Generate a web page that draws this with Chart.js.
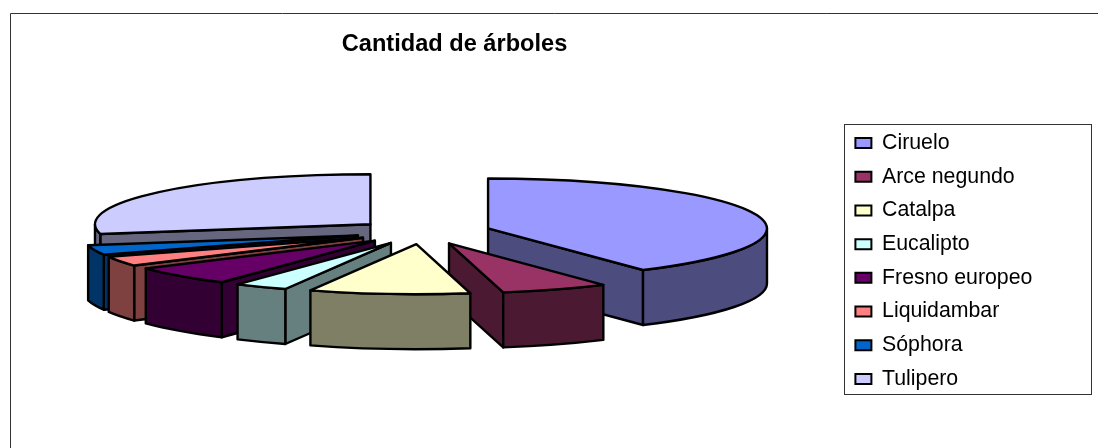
<!DOCTYPE html>
<html>
<head>
<meta charset="utf-8">
<title>Cantidad de árboles</title>
<script src="https://cdn.jsdelivr.net/npm/chart.js@4"></script>
<style>
    html, body { margin: 0; padding: 0; background: #fff; }
    canvas { display: block; }
</style>
</head>
<body>
<canvas id="chart" width="1098" height="448"></canvas>
<script>
const categories = ['Ciruelo', 'Arce negundo', 'Catalpa', 'Eucalipto', 'Fresno europeo', 'Liquidambar', 'Sóphora', 'Tulipero'];
const treeCounts = [13, 2, 3, 1, 2, 1, 1, 9];
const sliceColors = ['#9999FF', '#993366', '#FFFFCC', '#CCFFFF', '#660066', '#FF8080', '#0066CC', '#CCCCFF'];

// ── Helpers ───────────────────────────────────────────────────────────────────

function darken(hex) {
    const num = Number.parseInt(hex.replace('#', ''), 16);
    return `rgb(${(num >> 16) >> 1}, ${((num >> 8) & 0xff) >> 1}, ${(num & 0xff) >> 1})`;
}

// ── 3D exploded pie ───────────────────────────────────────────────────────────

const squash = 50 / 277;   // tilt of the pie plane
const depth = 55;          // height of the extrusion

// tip of an exploded slice, pushed out along its middle angle
function sliceApex(arc) {
    const mid = (arc.startAngle + arc.endAngle) / 2;
    return {
        x: arc.x + Math.cos(mid) * arc.options.offset,
        y: arc.y + Math.sin(mid) * arc.options.offset * squash,
    };
}

function fillPath(ctx, fill, build) {
    ctx.beginPath();
    build();
    ctx.closePath();
    ctx.fillStyle = fill;
    ctx.fill();
    ctx.stroke();
}

function drawSlice(ctx, arc) {
    const { x, y } = sliceApex(arc);
    const { startAngle: s, endAngle: e } = arc;
    // the right side of the pie sits a touch closer to the camera
    const rx = arc.outerRadius + 2 * Math.cos((s + e) / 2);
    const ry = arc.outerRadius * squash;
    const side = darken(arc.options.backgroundColor);

    // radial wall, only when it looks towards the viewer
    const wall = (angle) => fillPath(ctx, side, () => {
        const ox = x + rx * Math.cos(angle);
        const oy = y + ry * Math.sin(angle);
        ctx.moveTo(x, y);
        ctx.lineTo(ox, oy);
        ctx.lineTo(ox, oy + depth);
        ctx.lineTo(x, y + depth);
    });
    if (Math.cos(s) < -1e-6) wall(s);
    if (Math.cos(e) > 1e-6) wall(e);

    // rim, only the part on the near half of the ellipse
    const a0 = Math.max(s, 0);
    const a1 = Math.min(e, Math.PI);
    if (a1 > a0) {
        fillPath(ctx, side, () => {
            ctx.ellipse(x, y, rx, ry, 0, a0, a1);
            ctx.ellipse(x, y + depth, rx, ry, 0, a1, a0, true);
        });
    }

    // top face
    fillPath(ctx, arc.options.backgroundColor, () => {
        ctx.moveTo(x, y);
        ctx.ellipse(x, y, rx, ry, 0, s, e);
    });
}

const pie3dPlugin = {
    id: 'pie3d',
    afterLayout(chart) {
        // same spots as the spreadsheet chart: pie centre, title and legend
        Object.assign(chart.chartArea, { left: 200, right: 646, top: 132, bottom: 332 });
        chart.chartArea.width = 446;
        chart.chartArea.height = 200;
        Object.assign(chart.titleBlock, { left: 341, right: 568, top: 30, bottom: 58 });
        // bottom stays generous, the legend starts a new column past it
        Object.assign(chart.legend, { left: 843, right: 1092, top: 120, bottom: 448 });
    },
    beforeDraw(chart) {
        const { ctx } = chart;
        ctx.save();
        ctx.strokeStyle = '#333';
        ctx.lineWidth = 1;
        ctx.beginPath();
        ctx.moveTo(10.5, 448);
        ctx.lineTo(10.5, 13.5);
        ctx.lineTo(1098, 13.5);
        ctx.stroke();
        ctx.strokeRect(844.5, 124.5, 247, 270);
        ctx.restore();
    },
    beforeDatasetsDraw(chart) {
        const { ctx } = chart;
        const arcs = chart.getDatasetMeta(0).data.slice();
        arcs.sort((a, b) => sliceApex(a).y - sliceApex(b).y);
        ctx.save();
        ctx.strokeStyle = '#000';
        ctx.lineWidth = 2.4;
        ctx.lineJoin = 'round';
        arcs.forEach((arc) => drawSlice(ctx, arc));
        ctx.restore();
        return false;
    },
};

new Chart(document.getElementById('chart'), {
    type: 'pie',
    data: {
        labels: categories,
        datasets: [{
            data: treeCounts,
            backgroundColor: sliceColors,
            borderColor: '#000',
            borderWidth: 2,
            offset: 68,
        }],
    },
    options: {
        responsive: false,
        animation: false,
        radius: 277,
        plugins: {
            tooltip: { enabled: false },
            title: {
                display: true,
                text: 'Cantidad de árboles',
                color: '#000',
                padding: 0,
                font: { family: 'Liberation Sans', size: 23.6, weight: 'bold' },
            },
            legend: {
                position: 'right',
                align: 'start',
                labels: {
                    color: '#000',
                    boxWidth: 16,
                    boxHeight: 10,
                    padding: 12.4,
                    font: { family: 'Liberation Sans', size: 21.3 },
                },
            },
        },
    },
    plugins: [pie3dPlugin],
});
</script>
</body>
</html>
